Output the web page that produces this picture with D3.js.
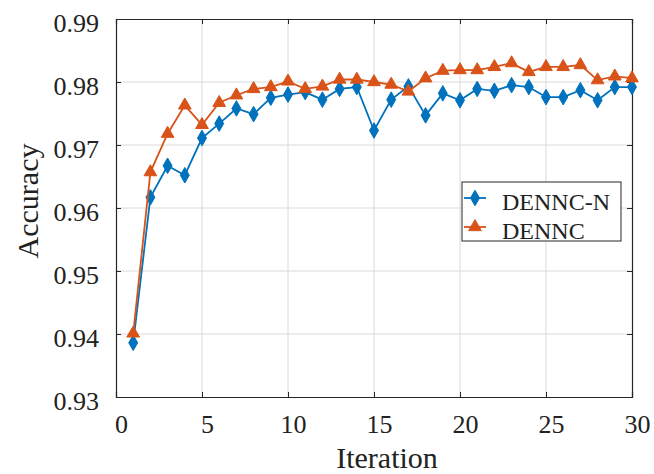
<!DOCTYPE html>
<html>
<head>
<meta charset="utf-8">
<script src="https://cdn.jsdelivr.net/npm/d3@7"></script>
<style>
body { margin: 0; background: #fff; }
text { font-family: "Liberation Serif", "Times New Roman", serif; fill: #222; }
</style>
</head>
<body>
<svg id="chart" width="654" height="474"></svg>
<script>
var iterations = d3.range(1, 31);
var denncN = [0.9386, 0.9617, 0.9667, 0.9652, 0.9711, 0.9734, 0.9758, 0.9749, 0.9775, 0.9780,
              0.9784, 0.9772, 0.9789, 0.9792, 0.9723, 0.9772, 0.9793, 0.9747, 0.9782, 0.9771,
              0.9789, 0.9786, 0.9795, 0.9792, 0.9776, 0.9776, 0.9787, 0.9771, 0.9792, 0.9792];
var dennc = [0.9401, 0.9657, 0.9718, 0.9763, 0.9732, 0.9767, 0.9779, 0.9789, 0.9792, 0.9801,
             0.9789, 0.9793, 0.9804, 0.9804, 0.9800, 0.9796, 0.9785, 0.9806, 0.9818, 0.9819,
             0.9819, 0.9824, 0.9830, 0.9816, 0.9824, 0.9824, 0.9827, 0.9803, 0.9809, 0.9806];
var xTicks = [0, 5, 10, 15, 20, 25, 30];
var yTicks = [0.93, 0.94, 0.95, 0.96, 0.97, 0.98, 0.99];

var margin = {left: 116, right: 22, top: 19, bottom: 77};
var width = 654, height = 474;

var svg = d3.select("#chart");

var x = d3.scaleLinear().domain([0, 30]).range([margin.left, width - margin.right]);
var y = d3.scaleLinear().domain([0.93, 0.99]).range([height - margin.bottom, margin.top]);

// grid
var grid = svg.append("g");
grid.selectAll(".gx").data(xTicks.slice(1, -1)).enter().append("line").
    attr("x1", x).attr("x2", x).
    attr("y1", y(0.93)).attr("y2", y(0.99)).
    attr("stroke", "#dadada").attr("stroke-width", 1);
grid.selectAll(".gy").data(yTicks.slice(1, -1)).enter().append("line").
    attr("x1", x(0)).attr("x2", x(30)).
    attr("y1", y).attr("y2", y).
    attr("stroke", "#dadada").attr("stroke-width", 1);

// axes (ticks point inward, box on all sides)
var xAxis = svg.append("g").attr("transform", "translate(0," + y(0.93) + ")").
    call(d3.axisBottom(x).tickValues(xTicks).tickSize(-5).tickFormat(d3.format("d")));
xAxis.selectAll(".tick text").attr("y", 36).attr("dy", 0).attr("dx", 5);
svg.append("g").attr("transform", "translate(0," + y(0.99) + ")").
    call(d3.axisTop(x).tickValues(xTicks).tickSize(-5).tickFormat(""));
var yAxis = svg.append("g").attr("transform", "translate(" + x(0) + ",0)").
    call(d3.axisLeft(y).tickValues(yTicks).tickSize(-5).tickPadding(17).tickFormat(d3.format(".2f")));
yAxis.selectAll(".tick text").attr("dy", "0.47em");
svg.append("g").attr("transform", "translate(" + x(30) + ",0)").
    call(d3.axisRight(y).tickValues(yTicks).tickSize(-5).tickFormat(""));

svg.selectAll(".domain").attr("stroke", "#262626").attr("stroke-width", 1.2);
svg.selectAll(".tick line").attr("stroke", "#262626");
svg.selectAll(".tick text").style("font-family", "'Liberation Serif', serif").
    style("font-size", "26px").attr("fill", "#222");

// axis labels
svg.append("text").attr("x", 387).attr("y", 468).
    attr("text-anchor", "middle").style("font-size", "30px").text("Iteration");
svg.append("text").attr("transform", "translate(38,201) rotate(-90)").
    attr("text-anchor", "middle").style("font-size", "30px").text("Accuracy");

// series
var series = [
    {name: "DENNC-N", values: denncN, color: "#0072BD", symbol: d3.symbolDiamond, size: 70},
    {name: "DENNC", values: dennc, color: "#D95319", symbol: d3.symbolTriangle, size: 70}
];

var line = d3.line().x(function(d, i) { return x(iterations[i]); }).y(function(d) { return y(d); });

series.forEach(function(s) {
    svg.append("path").datum(s.values).
        attr("d", line).attr("fill", "none").
        attr("stroke", s.color).attr("stroke-width", 1.8);
    svg.append("g").selectAll("path").data(s.values).enter().append("path").
        attr("transform", function(d, i) { return "translate(" + x(iterations[i]) + "," + y(d) + ")"; }).
        attr("d", d3.symbol().type(s.symbol).size(s.size)).
        attr("fill", s.color).attr("stroke", s.color).attr("stroke-width", 1);
});

// legend
var legend = svg.append("g").attr("transform", "translate(462,182)");
legend.append("rect").attr("width", 159).attr("height", 59).
    attr("fill", "#fff").attr("stroke", "#262626").attr("stroke-width", 1);
series.forEach(function(s, i) {
    var ly = 16 + i * 29;
    legend.append("line").attr("x1", 2).attr("x2", 24).attr("y1", ly).attr("y2", ly).
        attr("stroke", s.color).attr("stroke-width", 1.8);
    legend.append("path").attr("transform", "translate(13," + ly + ")").
        attr("d", d3.symbol().type(s.symbol).size(s.size)).
        attr("fill", s.color).attr("stroke", s.color);
    legend.append("text").attr("x", 40).attr("y", ly + 12).
        style("font-size", "24px").text(s.name);
});
</script>
</body>
</html>
